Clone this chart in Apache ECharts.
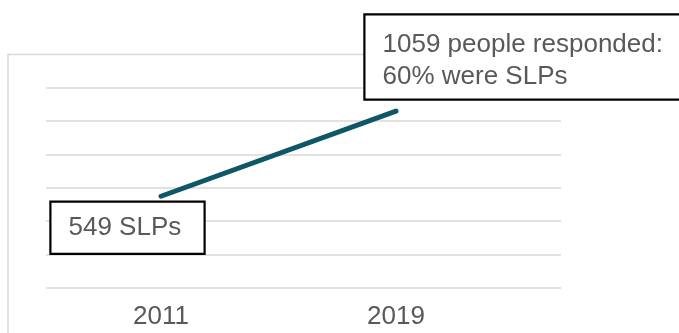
<!DOCTYPE html>
<html>
<head>
<meta charset="utf-8">
<script src="https://cdn.jsdelivr.net/npm/echarts@6/dist/echarts.min.js"></script>
<style>
html,body{margin:0;padding:0;background:#fff;}
#c{width:679px;height:333px;}
</style>
</head>
<body>
<div id="c"></div>
<script>
var categories = ['2011', '2019'];
var values = [549, 1059];
var notes = ['549 SLPs', '1059 people responded:\n60% were SLPs'];
var yMin = 0, yMax = 1200, yStep = 200;

var chart = echarts.init(document.getElementById('c'), null, {renderer: 'canvas'});
var textColor = '#595959';
var font = 'Liberation Sans, Arial, sans-serif';

chart.setOption({
  animation: false,
  backgroundColor: '#fff',
  graphic: [{
    type: 'rect', z: -1,
    shape: {x: 8, y: 54.5, width: 700, height: 300},
    style: {fill: 'none', stroke: '#d9d9d9', lineWidth: 1.5}
  }],
  grid: [
    {left: 46, right: 118, top: 87.5, bottom: 45},
    {left: 43.5, right: 165.5, top: 87.5, bottom: 45}
  ],
  xAxis: [
    {gridIndex: 0, type: 'category', data: categories, show: false},
    {gridIndex: 1, type: 'category', data: categories, boundaryGap: true,
     axisLine: {show: false}, axisTick: {show: false},
     axisLabel: {color: textColor, fontSize: 26, fontFamily: font, margin: 16}}
  ],
  yAxis: [
    {gridIndex: 0, type: 'value', min: yMin, max: yMax, interval: yStep,
     axisLabel: {show: false}, axisLine: {show: false}, axisTick: {show: false},
     splitLine: {lineStyle: {color: '#d9d9d9', width: 1.5}}},
    {gridIndex: 1, type: 'value', min: yMin, max: yMax, interval: yStep,
     show: false, splitLine: {show: false}}
  ],
  series: [{
    type: 'line', xAxisIndex: 1, yAxisIndex: 1,
    data: values.map(function (v, i) {
      var lab = i === 0
        ? {position: [-109, 7], width: 135, padding: [9, 0, 9, 17]}
        : {position: [-30, -95], width: 321, padding: [13, 0, 6, 17]};
      return {value: v, label: Object.assign({show: true, formatter: notes[i]}, lab)};
    }),
    symbol: 'circle', symbolSize: 1,
    itemStyle: {color: '#0d5766'},
    lineStyle: {color: '#0d5766', width: 5, cap: 'round'},
    label: {
      show: true, align: 'left', verticalAlign: 'top',
      color: textColor, fontSize: 26, fontFamily: font, lineHeight: 32,
      backgroundColor: '#fff', borderColor: '#000', borderWidth: 2.2
    },
    z: 5
  }]
});
</script>
</body>
</html>
